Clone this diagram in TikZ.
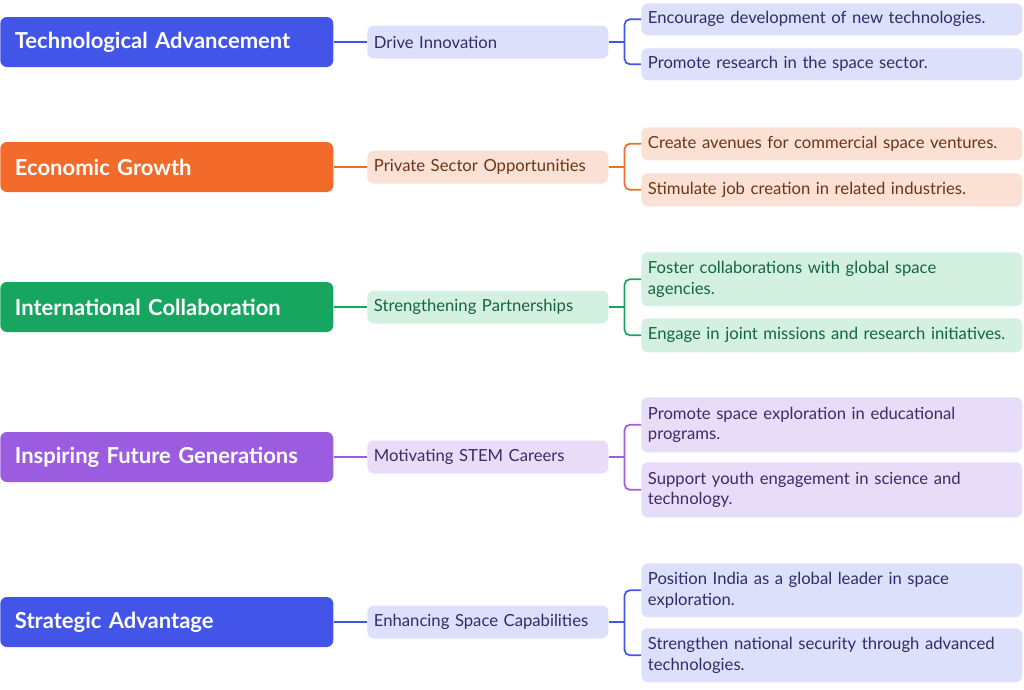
\documentclass[tikz,border=0pt]{standalone}
\usepackage{fontspec}
\setmainfont{Lato}
\begin{document}
\begin{tikzpicture}[x=0.75pt,y=-0.75pt,
 root/.style={rounded corners=5pt,minimum width=333*0.75pt,minimum height=50*0.75pt,anchor=west,text=white,font=\fontsize{16.5}{19}\selectfont\bfseries,inner xsep=11pt,text width=333*0.75pt-22pt,align=left},
 mid/.style={rounded corners=5pt,minimum width=241*0.75pt,minimum height=33*0.75pt,anchor=west,font=\fontsize{12.5}{14}\selectfont,inner xsep=5pt,text width=241*0.75pt-10pt,align=left},
 leaf/.style={rounded corners=5pt,minimum width=381*0.75pt,anchor=north west,font=\fontsize{12.5}{15.5}\selectfont,inner xsep=5pt,inner ysep=0pt,text width=381*0.75pt-10pt,align=left},
 con/.style={line width=1.3pt}]
\useasboundingbox (0,0) rectangle (1024,689);
\definecolor{bA}{HTML}{4355E8}\definecolor{bL}{HTML}{DDE0FA}\definecolor{bT}{HTML}{2B2F6B}
\definecolor{oA}{HTML}{F26B2A}\definecolor{oL}{HTML}{FBE1D3}\definecolor{oT}{HTML}{6B3519}
\definecolor{gA}{HTML}{16A660}\definecolor{gL}{HTML}{D4F0E1}\definecolor{gT}{HTML}{14663D}
\definecolor{pA}{HTML}{9B5CE0}\definecolor{pL}{HTML}{E8DDF8}\definecolor{pT}{HTML}{3E2A66}
% #1 name #2 y #3 color #4 root #5 mid #6 yA #7 hA #8 yB #9 hB
\newcommand{\myrow}[9]{%
 \node[root,fill=#3A] (r#1) at (0,#2) {#4};
 \node[mid,fill=#3L,text=#3T] (m#1) at (367,#2) {#5};
 \node[leaf,fill=#3L,minimum height=#7*0.75pt] (a#1) at (641,#6) {};
 \node[leaf,fill=#3L,minimum height=#9*0.75pt] (b#1) at (641,#8) {};
 \draw[con,#3A] (r#1.east) -- (m#1.west);
 \coordinate (j#1) at ([xshift=12pt]m#1.east);
 \draw[con,#3A] (m#1.east) -- (j#1);
 \draw[con,#3A,rounded corners=4pt] (a#1.west) -| (j#1) |- (b#1.west);
}
\newcommand{\mytext}[3]{\node[leaf,text=#1T,anchor=west] at (#2.west) {#3};}
\myrow{1}{42}{b}{Technological Advancement}{Drive Innovation}{3}{32}{48}{32}
\mytext{b}{a1}{Encourage development of new technologies.}
\mytext{b}{b1}{Promote research in the space sector.}
\myrow{2}{167}{o}{Economic Growth}{Private Sector Opportunities}{127}{33}{173}{33}
\mytext{o}{a2}{Create avenues for commercial space ventures.}
\mytext{o}{b2}{Stimulate job creation in related industries.}
\myrow{3}{307}{g}{International Collaboration}{Strengthening Partnerships}{252}{54}{318}{34}
\mytext{g}{a3}{Foster collaborations with global space\\agencies.}
\mytext{g}{b3}{Engage in joint missions and research initiatives.}
\myrow{4}{457}{p}{Inspiring Future Generations}{Motivating STEM Careers}{397}{55}{462}{55}
\mytext{p}{a4}{Promote space exploration in educational\\programs.}
\mytext{p}{b4}{Support youth engagement in science and\\technology.}
\myrow{5}{622}{b}{Strategic Advantage}{Enhancing Space Capabilities}{563}{54}{628}{54}
\mytext{b}{a5}{Position India as a global leader in space\\exploration.}
\mytext{b}{b5}{Strengthen national security through advanced\\technologies.}
\end{tikzpicture}
\end{document}
